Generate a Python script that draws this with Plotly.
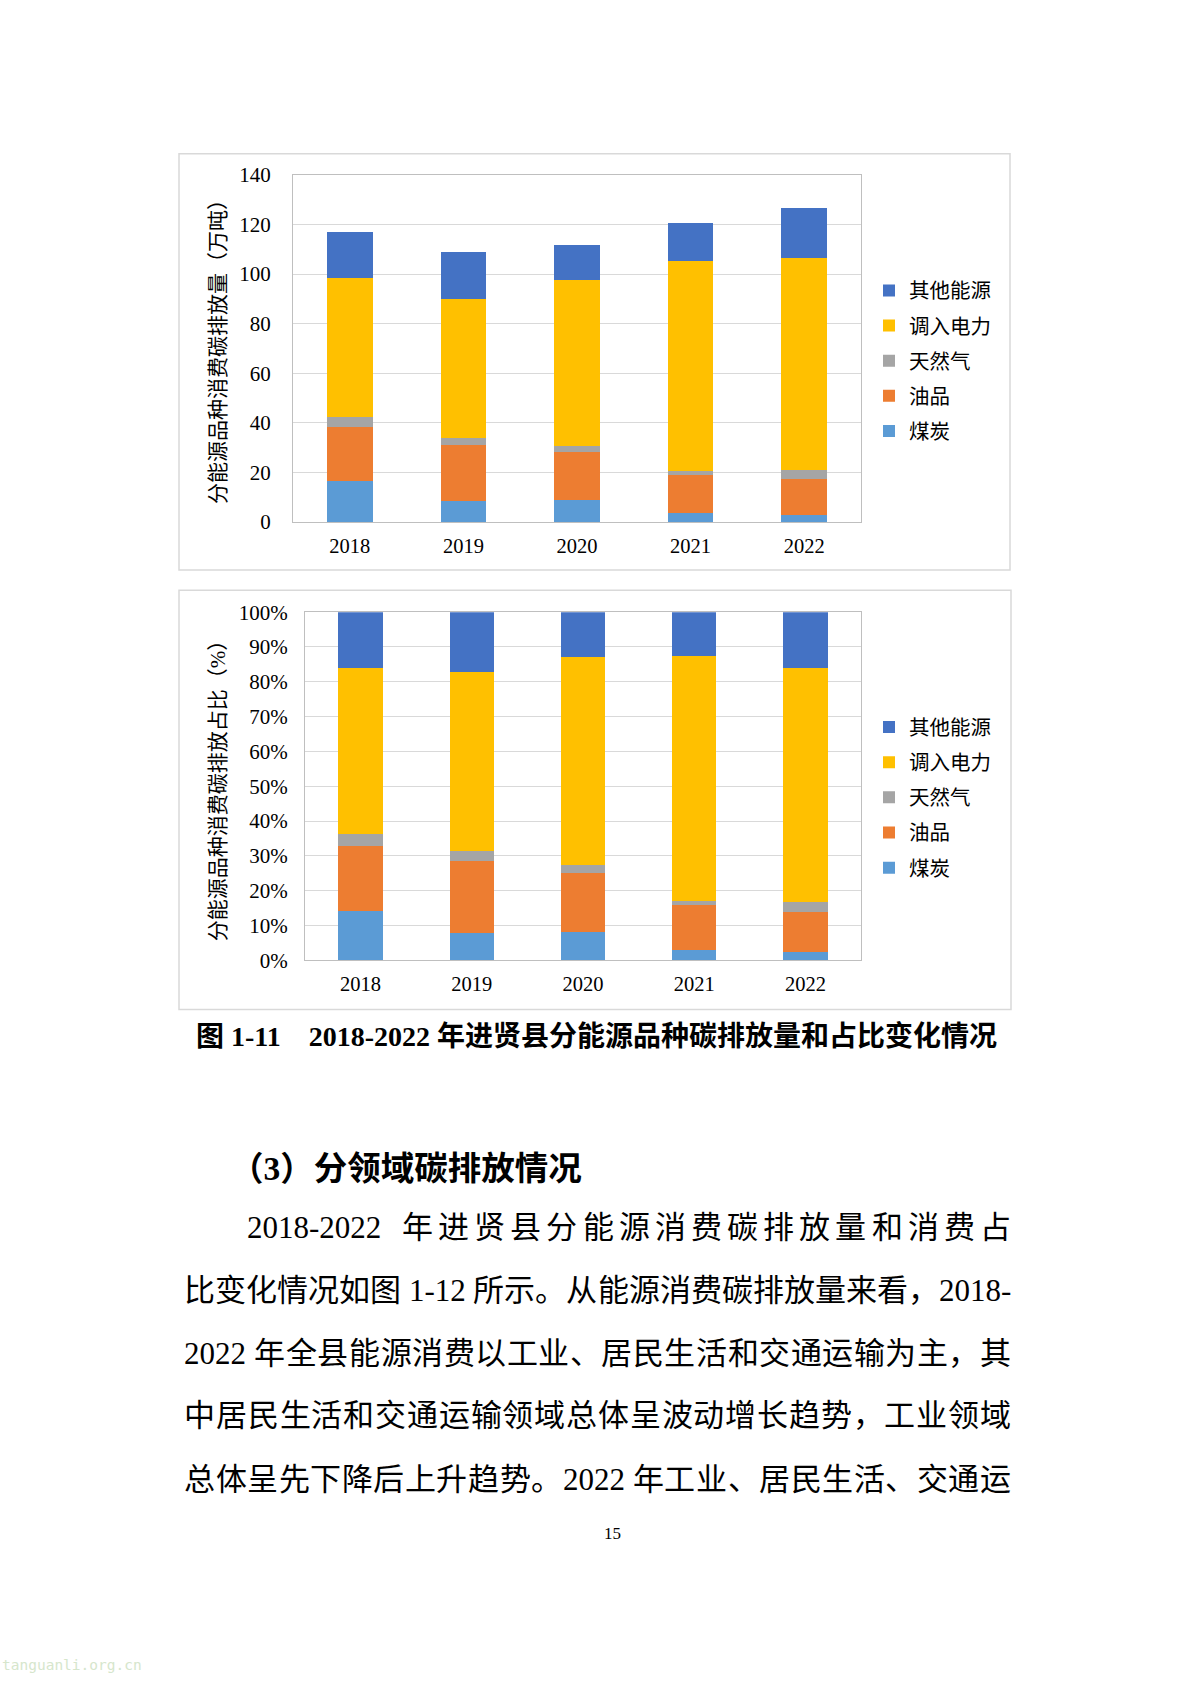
import plotly.graph_objects as go

W, H = 1190, 1683

years = ["2018", "2019", "2020", "2021", "2022"]
names = ["煤炭", "油品", "天然气", "调入电力", "其他能源"]
coal = [16.5, 8.5, 9.0, 3.6, 3.0]
oil = [21.8, 22.4, 19.2, 15.5, 14.5]
gas = [4.1, 3.1, 2.5, 1.5, 3.7]
elec = [55.9, 56.1, 66.7, 84.7, 85.4]
other = [18.7, 18.6, 14.5, 15.2, 20.2]
colors = ["#5B9BD5", "#ED7D31", "#A5A5A5", "#FFC000", "#4472C4"]

y1_ticks = [0, 20, 40, 60, 80, 100, 120, 140]
y2_ticks = [0, 10, 20, 30, 40, 50, 60, 70, 80, 90, 100]
y2_labels = [f"{v}%" for v in y2_ticks]

series = [coal, oil, gas, elec, other]
totals = [sum(s[i] for s in series) for i in range(len(years))]
shares = [[v / t * 100 for v, t in zip(s, totals)] for s in series]

caption = "图 1-11\u00a0\u00a0\u00a0\u00a02018-2022 年进贤县分能源品种碳排放量和占比变化情况"
heading = "（3）分领域碳排放情况"
body_lines = [
    "2018-2022  年进贤县分能源消费碳排放量和消费占",
    "比变化情况如图 1-12 所示。从能源消费碳排放量来看，2018-",
    "2022 年全县能源消费以工业、居民生活和交通运输为主，其",
    "中居民生活和交通运输领域总体呈波动增长趋势，工业领域",
    "总体呈先下降后上升趋势。2022 年工业、居民生活、交通运",
]
page_no = "15"
watermark = "tanguanli.org.cn"

FONT = "Liberation Serif, 'Noto Sans CJK SC', serif"


def px(x):
    return x / W


def py(y):
    # vertical page position (px from top) -> paper fraction
    yy = (y - 11.3) / 0.985
    return 1 - yy / H


fig = go.Figure()
for i, (nm, col) in enumerate(zip(names, colors)):
    fig.add_trace(go.Bar(x=years, y=series[i], name=nm, marker_color=col,
                         marker_line_width=0, xaxis="x", yaxis="y",
                         legend="legend", legendgroup=f"a{i}", legendrank=100 - i))
for i, (nm, col) in enumerate(zip(names, colors)):
    fig.add_trace(go.Bar(x=years, y=shares[i], name=nm, marker_color=col,
                         marker_line_width=0, xaxis="x2", yaxis="y2",
                         legend="legend2", legendgroup=f"b{i}", legendrank=100 - i))

axis_common = dict(showline=True, linecolor="#BFBFBF", linewidth=1, mirror=True)
xfont = dict(family=FONT, size=20.5, color="#000000")
yfont = dict(family=FONT, size=21, color="#000000")

fig.update_layout(
    width=W, height=H, margin=dict(l=0, r=0, t=0, b=0),
    paper_bgcolor="white", plot_bgcolor="white",
    barmode="stack", bargap=0.6,
    font=dict(family=FONT, color="#000000"),
    xaxis=dict(domain=[px(293), px(861)], anchor="y", showgrid=False, ticks="",
               ticklabelstandoff=5, tickfont=xfont, **axis_common),
    yaxis=dict(domain=[py(521), py(174)], anchor="x", range=[0, 140],
               tickvals=y1_ticks, showgrid=True, gridcolor="#D9D9D9", zeroline=False,
               ticks="", ticklabelstandoff=17, tickfont=yfont, **axis_common),
    xaxis2=dict(domain=[px(305), px(861)], anchor="y2", showgrid=False, ticks="",
                ticklabelstandoff=5, tickfont=xfont, **axis_common),
    yaxis2=dict(domain=[py(959), py(611)], anchor="x2", range=[0, 100],
                tickmode="array", tickvals=y2_ticks, ticktext=y2_labels,
                showgrid=True, gridcolor="#D9D9D9",
                zeroline=False, ticks="", ticklabelstandoff=12, tickfont=yfont,
                **axis_common),
    legend=dict(x=px(869), y=py(269.7), xanchor="left", yanchor="top",
                traceorder="grouped", tracegroupgap=5.5,
                font=dict(family=FONT, size=20.5), bgcolor="rgba(0,0,0,0)"),
    legend2=dict(x=px(869), y=py(706), xanchor="left", yanchor="top",
                 traceorder="grouped", tracegroupgap=5.5,
                 font=dict(family=FONT, size=20.5), bgcolor="rgba(0,0,0,0)"),
    shapes=[
        dict(type="rect", xref="paper", yref="paper", x0=px(179), x1=px(1010),
             y0=py(569), y1=py(153), line=dict(color="#D9D9D9", width=1.5)),
        dict(type="rect", xref="paper", yref="paper", x0=px(179), x1=px(1011),
             y0=py(1008), y1=py(589), line=dict(color="#D9D9D9", width=1.5)),
    ],
)

ann = []
ann.append(dict(text="分能源品种消费碳排放量（万吨）", x=px(218), y=py(345), textangle=-90,
                font=dict(size=21)))
ann.append(dict(text="分能源品种消费碳排放占比（%）", x=px(218), y=py(784), textangle=-90,
                font=dict(size=21)))
ann.append(dict(text="<b>" + caption + "</b>", x=px(596), y=py(1035), font=dict(size=28)))
ann.append(dict(text="<b>" + heading + "</b>", x=px(228), y=py(1167), xanchor="left",
                font=dict(size=33.5)))

# justified body text: each token placed along the line
BODY_FS = 31
RIGHT = 1009


def char_w(c, fs):
    if ord(c) >= 0x2E80 or c in "，。、":
        return fs
    if c.isdigit():
        return 0.5 * fs
    if c == "-":
        return 0.333 * fs
    if c == " ":
        return 0.25 * fs
    return 0.5 * fs


def tokenize(line):
    toks = []  # (text, leading_space)
    lead = 0.0
    buf = ""
    for c in line:
        if c == " ":
            if buf:
                toks.append([buf, lead])
                buf, lead = "", 0.0
            lead += char_w(c, BODY_FS)
        elif ord(c) < 128:
            buf += c
        else:
            if buf:
                toks.append([buf, lead])
                buf, lead = "", 0.0
            toks.append([c, lead])
            lead = 0.0
    if buf:
        toks.append([buf, lead])
    return toks


body_y = [1226, 1289, 1352, 1414, 1478]
body_x = [245, 182, 182, 182, 182]
for line, yy, x0 in zip(body_lines, body_y, body_x):
    toks = tokenize(line)
    widths = [sum(char_w(c, BODY_FS) for c in t) for t, _ in toks]
    natural = sum(widths) + sum(l for _, l in toks)
    extra = (RIGHT - x0 - natural) / (len(toks) - 1)
    x = x0
    for k, ((t, lead), w) in enumerate(zip(toks, widths)):
        if k > 0:
            x += lead
        ann.append(dict(text=t, x=px(x), y=py(yy), xanchor="left",
                        font=dict(size=BODY_FS)))
        x += w + extra

ann.append(dict(text=page_no, x=px(613), y=py(1532), font=dict(size=17)))
ann.append(dict(text=watermark, x=px(0), y=1 - 1677 / H, xanchor="left",
                font=dict(family="DejaVu Sans Mono", size=14.5, color="#D6E6CC")))
for a in ann:
    a.setdefault("xanchor", "center")
    a.setdefault("yanchor", "middle")
    a.update(xref="paper", yref="paper", showarrow=False)
fig.update_layout(annotations=ann)

fig.write_html("out.html")
